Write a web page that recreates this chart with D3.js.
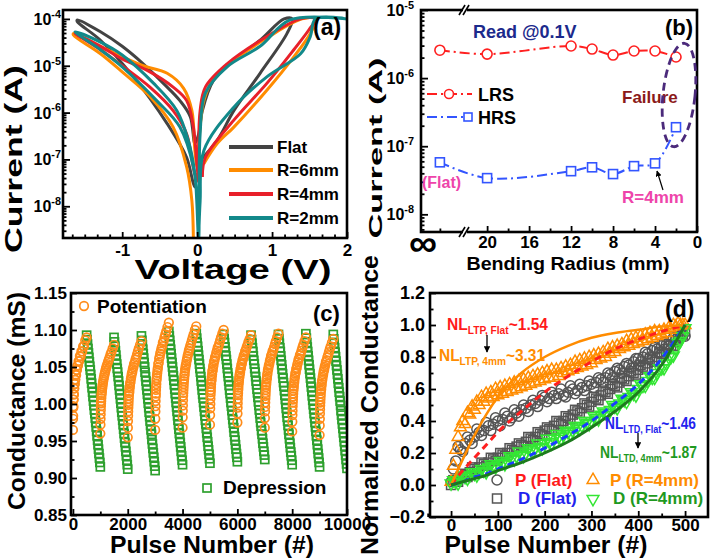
<!DOCTYPE html>
<html><head><meta charset="utf-8">
<script src="https://cdn.jsdelivr.net/npm/d3@7"></script>
<style>
body{margin:0;background:#fff;}
svg text{font-family:"Liberation Sans",Arial,Helvetica,sans-serif;font-weight:bold;}
</style></head><body>
<svg id="fig" width="710" height="560" xmlns="http://www.w3.org/2000/svg"></svg>
<script>
// ---------------- DATA ----------------
// (a) I-V sweeps (voltage V, current A)
const ivLabels = ["Flat","R=6mm","R=4mm","R=2mm"];
const vFlat = [0.04,0.27,0.49,0.84,1.2,1.27,1.16,0.84,0.49,0.22,0.07,0.02,-0.03,-0.09,-0.23,-0.45,-0.72,-1.0,-1.29,-1.6,-1.6,-1.29,-0.85,-0.4,-0.14,-0.03,0.0];
const iFlat = [9.5e-8,2.6e-7,1.1e-6,6.9e-6,4.9e-5,1e-4,1e-4,3.5e-5,1.3e-5,4.9e-6,1.1e-6,3.5e-7,2.2e-7,8.1e-7,1.8e-6,4.2e-6,1.1e-5,2.6e-5,5.3e-5,9.5e-5,8.8e-5,3.5e-5,5.8e-6,5.8e-7,1.1e-7,2.6e-8,2.6e-8];
const v6mm = [0.09,0.27,0.49,0.93,1.29,1.51,1.59,1.4,0.93,0.49,0.22,0.09,0.04,0.0,-0.03,-0.07,-0.18,-0.4,-0.72,-1.0,-1.29,-1.65,-1.65,-1.29,-1.0,-0.63,-0.32,-0.14,-0.07,-0.05];
const i6mm = [8.1e-8,2.2e-7,4.9e-7,3.0e-6,1.55e-5,4.9e-5,1e-4,1e-4,3.9e-5,1.3e-5,5.3e-6,1.8e-6,4.9e-7,6.9e-8,1.55e-7,1.1e-6,3.3e-6,6.9e-6,1.0e-5,1.55e-5,2.6e-5,4.9e-5,4.5e-5,1.8e-5,7.4e-6,2.2e-6,4.9e-7,6.9e-8,1.3e-8,2e-9];
const v4mm = [0.07,0.11,0.49,0.93,1.29,1.49,1.58,1.38,0.93,0.4,0.11,0.04,0.02,0.02,0.0,-0.05,-0.14,-0.32,-0.63,-1.0,-1.29,-1.63,-1.29,-1.0,-0.63,-0.32,-0.14,-0.03,0.04];
const i4mm = [4.2e-8,1.1e-7,6.9e-7,4.2e-6,2.2e-5,5.8e-5,1e-4,1e-4,4.2e-5,1.1e-5,3.5e-6,1.1e-6,1.55e-7,3.5e-8,6.9e-8,4.9e-7,1.8e-6,3.5e-6,7.4e-6,1.4e-5,2.6e-5,4.9e-5,2.2e-5,1.0e-5,3.5e-6,1.1e-6,3.5e-7,4.9e-8,3.0e-8];
const v2mm = [0.02,0.04,0.09,0.49,0.93,1.38,1.51,1.58,2.0,1.24,0.84,0.4,0.11,0.04,0.02,-0.03,-0.12,-0.27,-0.58,-1.0,-1.29,-1.63,-1.29,-1.0,-0.54,-0.23,-0.05,0.0,0.02];
const i2mm = [2e-9,1.3e-8,1.55e-7,1.3e-6,5.8e-6,1.8e-5,4.2e-5,1e-4,1e-4,9.5e-5,2.6e-5,9.5e-6,2.6e-6,3.5e-7,2e-9,4.9e-8,2.6e-7,1.1e-6,4.2e-6,1.7e-5,3.2e-5,5.3e-5,2.2e-5,9.5e-6,1.8e-6,4.9e-7,6.9e-8,1.3e-8,2e-9];
const ivXTicks = [-1,0,1,2];
const ivYTicks = [1e-8,1e-7,1e-6,1e-5,1e-4];

// (b) read current vs bending radius
const bendRadius = ["Flat",20,12,10,8,6,4,2];
const lrsCurrent = [2.57e-6,2.25e-6,2.96e-6,2.67e-6,2.18e-6,2.5e-6,2.5e-6,2.04e-6];
const hrsCurrent = [5.8e-8,3.4e-8,4.3e-8,4.9e-8,3.9e-8,5.1e-8,5.6e-8,1.9e-7];
const bendXTicks = [20,16,12,8,4,0];
const bendYTicks = [1e-8,1e-7,1e-6,1e-5];

// (c) conductance cycling (mS)
const cycleStarts = [0,1000,2000,3000,4000,5000,6000,7000,8000,9000];
const potOffsets = [0,4,8,12,16,20,25,30,36,42,50,58,67,77,88,100,115,130,147,165,185,207,230,255,282,310,340,372,405,450,500];
const potentiation = [
 [0.965,0.980,0.984,0.995,0.997,1.006,1.006,1.013,1.013,1.021,1.021,1.027,1.027,1.033,1.033,1.040,1.039,1.046,1.046,1.052,1.052,1.058,1.058,1.065,1.064,1.071,1.071,1.078,1.078,1.086,1.090],
 [0.960,0.972,0.980,0.986,0.992,0.997,1.001,1.004,1.008,1.012,1.015,1.018,1.021,1.024,1.027,1.030,1.033,1.036,1.039,1.042,1.045,1.048,1.051,1.054,1.057,1.060,1.063,1.067,1.070,1.075,1.080],
 [0.955,0.968,0.977,0.984,0.990,0.995,0.999,1.003,1.007,1.011,1.015,1.017,1.021,1.024,1.028,1.030,1.034,1.037,1.041,1.043,1.047,1.050,1.054,1.056,1.060,1.063,1.067,1.071,1.075,1.080,1.085],
 [0.965,0.980,0.990,0.997,1.004,1.010,1.014,1.019,1.023,1.027,1.032,1.035,1.039,1.042,1.046,1.049,1.054,1.056,1.061,1.064,1.068,1.071,1.075,1.078,1.083,1.085,1.090,1.094,1.098,1.104,1.110],
 [0.968,0.982,0.991,0.998,1.005,1.011,1.015,1.019,1.023,1.027,1.031,1.034,1.038,1.041,1.045,1.048,1.052,1.054,1.058,1.061,1.065,1.068,1.072,1.075,1.079,1.082,1.086,1.090,1.094,1.100,1.105],
 [0.972,0.985,0.994,1.000,1.007,1.012,1.016,1.019,1.023,1.027,1.031,1.033,1.037,1.040,1.044,1.046,1.050,1.053,1.057,1.059,1.063,1.065,1.069,1.072,1.076,1.078,1.082,1.086,1.090,1.095,1.100],
 [0.975,0.987,0.995,1.001,1.007,1.012,1.015,1.019,1.022,1.026,1.029,1.032,1.035,1.038,1.041,1.043,1.047,1.049,1.053,1.055,1.059,1.061,1.065,1.067,1.071,1.073,1.077,1.080,1.084,1.088,1.093],
 [0.968,0.981,0.990,0.996,1.002,1.007,1.011,1.015,1.019,1.023,1.026,1.029,1.033,1.035,1.039,1.042,1.046,1.048,1.052,1.054,1.058,1.061,1.065,1.067,1.071,1.073,1.077,1.081,1.085,1.090,1.095],
 [0.963,0.976,0.985,0.991,0.997,1.002,1.006,1.010,1.014,1.018,1.021,1.024,1.028,1.030,1.034,1.037,1.041,1.043,1.047,1.049,1.053,1.056,1.060,1.062,1.066,1.068,1.072,1.076,1.080,1.085,1.090],
 [0.958,0.971,0.980,0.987,0.993,0.998,1.002,1.006,1.010,1.014,1.018,1.020,1.024,1.027,1.031,1.033,1.037,1.040,1.044,1.046,1.050,1.053,1.057,1.059,1.063,1.066,1.070,1.074,1.078,1.083,1.088]
];
const depOffsets = [500,517,533,550,567,583,600,617,633,650,667,683,700,717,733,750,767,783,800,817,833,850,867,883,900,917,933,950,967,983,1000];
const depression = [
 [1.093,1.087,1.081,1.075,1.069,1.063,1.057,1.051,1.046,1.040,1.034,1.028,1.022,1.016,1.010,1.004,0.998,0.992,0.987,0.981,0.975,0.969,0.963,0.957,0.951,0.945,0.939,0.933,0.927,0.921,0.915],
 [1.090,1.084,1.078,1.072,1.066,1.060,1.054,1.048,1.043,1.037,1.031,1.025,1.019,1.013,1.007,1.001,0.995,0.989,0.984,0.978,0.972,0.966,0.960,0.954,0.948,0.942,0.936,0.930,0.924,0.918,0.912],
 [1.092,1.086,1.080,1.074,1.068,1.062,1.056,1.050,1.043,1.037,1.031,1.025,1.019,1.013,1.007,1.001,0.995,0.989,0.983,0.977,0.971,0.965,0.959,0.952,0.946,0.940,0.934,0.928,0.922,0.916,0.910],
 [1.098,1.092,1.086,1.080,1.074,1.068,1.062,1.056,1.050,1.044,1.038,1.032,1.026,1.020,1.014,1.008,1.002,0.996,0.990,0.984,0.978,0.972,0.966,0.960,0.954,0.948,0.942,0.936,0.930,0.924,0.918],
 [1.095,1.089,1.083,1.078,1.072,1.066,1.060,1.054,1.048,1.043,1.037,1.031,1.025,1.019,1.013,1.008,1.002,0.996,0.990,0.984,0.978,0.973,0.967,0.961,0.955,0.949,0.943,0.938,0.932,0.926,0.920],
 [1.094,1.088,1.083,1.077,1.071,1.065,1.060,1.054,1.048,1.042,1.037,1.031,1.025,1.019,1.014,1.008,1.002,0.997,0.991,0.985,0.979,0.974,0.968,0.962,0.956,0.951,0.945,0.939,0.933,0.928,0.922],
 [1.093,1.087,1.082,1.076,1.071,1.065,1.059,1.054,1.048,1.043,1.037,1.031,1.026,1.020,1.015,1.009,1.003,0.998,0.992,0.987,0.981,0.975,0.970,0.964,0.959,0.953,0.947,0.942,0.936,0.931,0.925],
 [1.094,1.088,1.082,1.076,1.071,1.065,1.059,1.053,1.047,1.041,1.035,1.029,1.024,1.018,1.012,1.006,1.000,0.994,0.988,0.982,0.977,0.971,0.965,0.959,0.953,0.947,0.941,0.935,0.930,0.924,0.918],
 [1.095,1.089,1.083,1.077,1.071,1.065,1.059,1.053,1.047,1.041,1.035,1.029,1.023,1.017,1.011,1.005,0.999,0.993,0.987,0.981,0.975,0.969,0.963,0.957,0.951,0.945,0.939,0.933,0.927,0.921,0.915],
 [1.094,1.088,1.082,1.076,1.070,1.064,1.058,1.052,1.046,1.040,1.034,1.028,1.022,1.016,1.010,1.004,0.998,0.991,0.985,0.979,0.973,0.967,0.961,0.955,0.949,0.943,0.937,0.931,0.925,0.919,0.913]
];
const condYTicks = [0.85,0.90,0.95,1.00,1.05,1.10,1.15];
const condXTicks = [0,2000,4000,6000,8000,10000];

// (d) normalized conductance
const normPulses = [0,5,10,15,20,25,30,35,40,45,50,55,60,65,70,75,80,85,90,95,100,105,110,115,120,125,130,135,140,145,150,155,160,165,170,175,180,185,190,195,200,205,210,215,220,225,230,235,240,245,250,255,260,265,270,275,280,285,290,295,300,305,310,315,320,325,330,335,340,345,350,355,360,365,370,375,380,385,390,395,400,405,410,415,420,425,430,435,440,445,450,455,460,465,470,475,480,485,490,495,500];
const pFlat = [0.02,0.10,0.15,0.24,0.22,0.21,0.26,0.30,0.28,0.26,0.30,0.35,0.33,0.31,0.34,0.39,0.37,0.34,0.38,0.42,0.40,0.37,0.41,0.45,0.43,0.40,0.42,0.47,0.45,0.43,0.47,0.50,0.48,0.46,0.50,0.53,0.51,0.49,0.53,0.56,0.55,0.52,0.54,0.58,0.56,0.54,0.57,0.60,0.56,0.55,0.58,0.62,0.60,0.57,0.59,0.63,0.61,0.59,0.62,0.65,0.63,0.61,0.64,0.67,0.66,0.64,0.67,0.70,0.69,0.67,0.71,0.73,0.72,0.70,0.74,0.76,0.75,0.73,0.77,0.79,0.79,0.77,0.80,0.83,0.82,0.80,0.84,0.86,0.85,0.83,0.87,0.89,0.88,0.87,0.90,0.92,0.91,0.90,0.92,0.94,0.93];
const dFlat = [0.00,0.03,0.03,0.02,0.05,0.07,0.06,0.05,0.08,0.11,0.10,0.09,0.11,0.14,0.13,0.12,0.14,0.17,0.16,0.15,0.17,0.20,0.19,0.18,0.20,0.23,0.22,0.21,0.24,0.26,0.25,0.24,0.27,0.30,0.29,0.28,0.30,0.33,0.32,0.31,0.34,0.36,0.35,0.34,0.37,0.40,0.39,0.38,0.40,0.43,0.42,0.41,0.44,0.47,0.46,0.45,0.48,0.51,0.50,0.49,0.52,0.55,0.54,0.53,0.56,0.59,0.58,0.57,0.60,0.63,0.62,0.61,0.64,0.67,0.66,0.65,0.68,0.71,0.70,0.69,0.72,0.75,0.74,0.73,0.76,0.79,0.78,0.77,0.80,0.83,0.82,0.82,0.85,0.88,0.87,0.87,0.90,0.93,0.93,0.94,0.96];
const p4mm = [0.02,0.12,0.22,0.30,0.36,0.40,0.38,0.45,0.44,0.49,0.47,0.52,0.50,0.55,0.52,0.57,0.54,0.58,0.55,0.60,0.56,0.61,0.57,0.62,0.58,0.63,0.59,0.64,0.60,0.65,0.61,0.66,0.62,0.67,0.63,0.68,0.64,0.69,0.65,0.70,0.66,0.71,0.67,0.72,0.67,0.72,0.68,0.73,0.70,0.74,0.71,0.75,0.72,0.77,0.73,0.78,0.74,0.79,0.75,0.80,0.76,0.81,0.78,0.82,0.79,0.83,0.80,0.85,0.82,0.86,0.83,0.87,0.85,0.88,0.86,0.90,0.87,0.91,0.88,0.92,0.89,0.93,0.90,0.94,0.91,0.95,0.92,0.96,0.93,0.96,0.94,0.97,0.95,0.98,0.97,1.00,0.99,1.01,1.00,1.00,1.00];
const d4mm = [0.01,0.03,0.02,0.01,0.04,0.06,0.05,0.04,0.06,0.08,0.07,0.06,0.08,0.10,0.09,0.08,0.11,0.13,0.12,0.11,0.13,0.15,0.14,0.13,0.15,0.18,0.17,0.16,0.18,0.21,0.19,0.18,0.20,0.23,0.22,0.21,0.23,0.26,0.24,0.23,0.26,0.29,0.27,0.26,0.29,0.32,0.30,0.29,0.31,0.34,0.33,0.32,0.34,0.37,0.36,0.35,0.37,0.40,0.39,0.38,0.40,0.43,0.42,0.41,0.44,0.46,0.45,0.44,0.47,0.50,0.49,0.48,0.51,0.54,0.53,0.52,0.55,0.58,0.57,0.56,0.60,0.63,0.62,0.62,0.65,0.68,0.67,0.67,0.70,0.73,0.73,0.73,0.76,0.80,0.80,0.81,0.85,0.89,0.90,0.93,0.98];
const fitPulses = [0,25,50,75,100,150,200,250,300,350,400,450,500];
const fitLtpFlat = [0,0.09,0.17,0.25,0.33,0.46,0.58,0.68,0.77,0.85,0.91,0.96,1.0];
const fitLtp4mm = [0,0.16,0.31,0.44,0.55,0.70,0.80,0.87,0.92,0.95,0.97,0.99,1.0];
const fitLtdFlat = [0,0.02,0.05,0.07,0.10,0.16,0.23,0.31,0.40,0.51,0.63,0.79,1.0];
const fitLtd4mm = [0,0.02,0.04,0.06,0.09,0.14,0.20,0.27,0.36,0.46,0.58,0.75,1.0];
const normYTicks = [-0.2,0,0.2,0.4,0.6,0.8,1.0,1.2];
const normXTicks = [0,100,200,300,400,500];

// ---------------- DRAWING ----------------
const svg = d3.select("#fig");
const FONT = '"Liberation Sans", Arial, Helvetica, sans-serif';
const defs = svg.append("defs");
defs.append("marker").attr("id","arr").attr("viewBox","0 0 10 10").attr("refX",9).attr("refY",5)
  .attr("markerWidth",5).attr("markerHeight",5).attr("orient","auto")
  .append("path").attr("d","M0,0 L10,5 L0,10 z").attr("fill","#000");

function clip(id, P){
  defs.append("clipPath").attr("id",id).append("rect")
    .attr("x",P.l).attr("y",P.t).attr("width",P.r-P.l).attr("height",P.b-P.t);
}
function frame(P){
  svg.append("rect").attr("x",P.l).attr("y",P.t).attr("width",P.r-P.l).attr("height",P.b-P.t)
    .attr("fill","none").attr("stroke","#000").attr("stroke-width",2.6);
}
function axis(gen, tx, ty, fs){
  const a = svg.append("g").attr("transform",`translate(${tx},${ty})`).call(gen);
  a.select(".domain").remove();
  a.selectAll("line").attr("stroke","#000").attr("stroke-width",1.8);
  a.attr("font-size",fs).attr("font-family",FONT).attr("font-weight","bold");
  a.selectAll("text").attr("fill","#000");
  return a;
}
function logMinors(lo, hi){
  const out=[];
  for(let e=-10;e<=-3;e++) for(let m=2;m<=9;m++){const v=m*Math.pow(10,e); if(v>lo&&v<hi) out.push(v);}
  return out;
}
function expLabel(x, y, v, fs){
  const e = Math.round(Math.log10(v));
  const t = svg.append("text").attr("x",x).attr("y",y).attr("text-anchor","end").attr("font-size",fs);
  t.append("tspan").text("10");
  t.append("tspan").attr("dy",-fs*0.45).attr("font-size",fs*0.68).text(String(e));
}
function label(x,y,txt,fs,opts={}){
  const t = svg.append("text").attr("x",x).attr("y",y).attr("font-size",fs).text(txt)
    .attr("fill",opts.fill||"#000").attr("text-anchor",opts.anchor||"start");
  if(opts.len) t.attr("textLength",opts.len).attr("lengthAdjust","spacingAndGlyphs");
  if(opts.rot!==undefined) t.attr("transform",`rotate(${opts.rot},${x},${y})`);
  return t;
}
const plain = d => String(d);

// ===== Panel (a) =====
const A = {l:63,t:10,r:347,b:238};
clip("clipA",A);
const xA = d3.scaleLinear().domain([-1.79,2]).range([A.l,A.r]);
const yA = d3.scaleLog().domain([2.1e-9,1.55e-4]).range([A.b,A.t]);
const ivColors = ["#434343","#ff8c00","#e8202a","#12898a"];
const ivData = [[vFlat,iFlat],[v6mm,i6mm],[v4mm,i4mm],[v2mm,i2mm]];
const gA = svg.append("g").attr("clip-path","url(#clipA)");
const ivLine = d3.line().x(d=>xA(d[0])).y(d=>yA(d[1])).curve(d3.curveCatmullRom.alpha(0.5));
ivData.forEach((s,k)=>{
  const pts = s[0].map((v,i)=>[v,s[1][i]]);
  gA.append("path").attr("d",ivLine(pts)).attr("fill","none").attr("stroke",ivColors[k])
    .attr("stroke-width",3).attr("stroke-linejoin","round");
});
axis(d3.axisBottom(xA).tickValues(ivXTicks).tickSize(-6).tickPadding(6).tickFormat(plain),0,A.b,17);
axis(d3.axisBottom(xA).tickValues(d3.range(-10,12).map(k=>k/6).filter(v=>v>-1.79&&v<2&&Math.abs(v-Math.round(v))>0.01)).tickSize(-3.5).tickFormat(""),0,A.b,10);
axis(d3.axisLeft(yA).tickValues(ivYTicks).tickSize(-7).tickFormat(""),A.l,0,10);
axis(d3.axisLeft(yA).tickValues(logMinors(2.1e-9,1.55e-4)).tickSize(-3.5).tickFormat(""),A.l,0,10);
ivYTicks.forEach(v=>expLabel(A.l-2, yA(v)+6, v, 16));
frame(A);
[147,170,194,218].forEach((y,k)=>{
  svg.append("line").attr("x1",229).attr("x2",273).attr("y1",y).attr("y2",y).attr("stroke",ivColors[k]).attr("stroke-width",4);
  label(277,y+6,ivLabels[k],17);
});
label(313,35,"(a)",23);
label(22,159,"Current (A)",23,{anchor:"middle",rot:-90,len:188});
label(233,279,"Voltage (V)",27,{anchor:"middle",len:197});

// ===== Panel (b) =====
const B = {l:421,t:10,r:697,b:232};
clip("clipB",B);
const flatPos = 24.5;
const xB = d3.scaleLinear().domain([26.3,0]).range([B.l,B.r]);
const yB = d3.scaleLog().domain([5.5e-9,1e-5]).range([B.b,B.t]);
const bx = r => xB(r==="Flat"?flatPos:r);
const gB = svg.append("g").attr("clip-path","url(#clipB)");
const bLine = d3.line().x(d=>bx(d[0])).y(d=>yB(d[1])).curve(d3.curveCatmullRom.alpha(0.5));
const lrsPts = bendRadius.map((r,i)=>[r,lrsCurrent[i]]);
const hrsPts = bendRadius.map((r,i)=>[r,hrsCurrent[i]]);
gB.append("path").attr("d",bLine(lrsPts)).attr("fill","none").attr("stroke","#ff2020").attr("stroke-width",2).attr("stroke-dasharray","10,4,2,4");
gB.append("path").attr("d",bLine(hrsPts)).attr("fill","none").attr("stroke","#3355ff").attr("stroke-width",2).attr("stroke-dasharray","10,4,2,4");
gB.selectAll("circle.l").data(lrsPts).join("circle").attr("cx",d=>bx(d[0])).attr("cy",d=>yB(d[1])).attr("r",5)
  .attr("fill","#fff").attr("stroke","#ff2020").attr("stroke-width",1.6);
gB.selectAll("rect.h").data(hrsPts).join("rect").attr("x",d=>bx(d[0])-4.5).attr("y",d=>yB(d[1])-4.5).attr("width",9).attr("height",9)
  .attr("fill","#fff").attr("stroke","#3355ff").attr("stroke-width",1.6);
axis(d3.axisBottom(xB).tickValues(bendXTicks).tickSize(-6).tickPadding(4).tickFormat(plain),0,B.b,17);
axis(d3.axisBottom(xB).tickValues([18,14,10,6,2,flatPos]).tickSize(-3.5).tickFormat(""),0,B.b,10);
axis(d3.axisLeft(yB).tickValues(bendYTicks).tickSize(-7).tickFormat(""),B.l,0,10);
axis(d3.axisLeft(yB).tickValues(logMinors(5.5e-9,1e-5)).tickSize(-3.5).tickFormat(""),B.l,0,10);
bendYTicks.forEach(v=>expLabel(B.l-7, yB(v)+6, v, 16));
frame(B);
[B.t,B.b].forEach(y=>{
  const xb = xB(22.2);
  svg.append("line").attr("x1",xb-1).attr("x2",xb+3).attr("y1",y).attr("y2",y).attr("stroke","#fff").attr("stroke-width",4);
  [-2,2].forEach(dx=>svg.append("line").attr("x1",xb+dx-3).attr("y1",y+5).attr("x2",xb+dx+3).attr("y2",y-5).attr("stroke","#000").attr("stroke-width",1.6));
});
label(423,256,"\u221e",38,{anchor:"middle",len:28});
svg.append("line").attr("x1",427).attr("x2",472).attr("y1",94).attr("y2",94).attr("stroke","#ff2020").attr("stroke-width",2).attr("stroke-dasharray","10,4,2,4");
svg.append("circle").attr("cx",449).attr("cy",94).attr("r",4.5).attr("fill","#fff").attr("stroke","#ff2020").attr("stroke-width",1.6);
svg.append("line").attr("x1",427).attr("x2",472).attr("y1",117).attr("y2",117).attr("stroke","#3355ff").attr("stroke-width",2).attr("stroke-dasharray","10,4,2,4");
svg.append("rect").attr("x",464).attr("y",113).attr("width",8).attr("height",8).attr("fill","#fff").attr("stroke","#3355ff").attr("stroke-width",1.6);
label(478,101,"LRS",18);
label(478,124,"HRS",18);
label(473,38,"Read @0.1V",18,{fill:"#1c2a8c"});
label(665,35,"(b)",22);
label(622,103,"Failure",17,{fill:"#8b1a1a"});
label(422,188,"(Flat)",16,{fill:"#ee44aa"});
label(622,203,"R=4mm",17,{fill:"#ee44aa"});
svg.append("ellipse").attr("cx",679).attr("cy",95).attr("rx",16).attr("ry",52)
  .attr("transform","rotate(6,679,95)").attr("fill","none").attr("stroke","#4b2a7b").attr("stroke-width",2.8).attr("stroke-dasharray","8,5");
svg.append("line").attr("x1",663).attr("y1",190).attr("x2",657).attr("y2",171).attr("stroke","#000").attr("stroke-width",1.2).attr("marker-end","url(#arr)");
label(382,148,"Current (A)",18,{anchor:"middle",rot:-90,len:181});
label(568,270,"Bending Radius (mm)",19,{anchor:"middle",len:203});

// ===== Panel (c) =====
const C = {l:71,t:293,r:347,b:515};
clip("clipC",C);
const xC = d3.scaleLinear().domain([-70,10000]).range([C.l,C.r]);
const yC = d3.scaleLinear().domain([0.85,1.15]).range([C.b,C.t]);
const gC = svg.append("g").attr("clip-path","url(#clipC)");
const depPts=[], potPts=[];
cycleStarts.forEach((s,c)=>{
  depOffsets.forEach((o,i)=>depPts.push([s+o,depression[c][i]]));
  potOffsets.forEach((o,i)=>potPts.push([s+o,potentiation[c][i]]));
});
gC.selectAll("rect.d").data(depPts).join("rect").attr("x",d=>xC(d[0])-4).attr("y",d=>yC(d[1])-4)
  .attr("width",8).attr("height",8).attr("fill","none").attr("stroke","#2ea02e").attr("stroke-width",1.7);
gC.selectAll("circle.p").data(potPts).join("circle").attr("cx",d=>xC(d[0])).attr("cy",d=>yC(d[1])).attr("r",4.3)
  .attr("fill","none").attr("stroke","#ff8c1a").attr("stroke-width",1.7);
axis(d3.axisBottom(xC).tickValues(condXTicks).tickSize(-6).tickPadding(3).tickFormat(plain),0,C.b,17);
axis(d3.axisBottom(xC).tickValues([1000,3000,5000,7000,9000]).tickSize(-3.5).tickFormat(""),0,C.b,10);
axis(d3.axisLeft(yC).tickValues(condYTicks).tickSize(-6).tickPadding(4).tickFormat(d3.format(".2f")),C.l,0,17);
axis(d3.axisLeft(yC).tickValues([0.875,0.925,0.975,1.025,1.075,1.125]).tickSize(-3.5).tickFormat(""),C.l,0,10);
frame(C);
svg.append("circle").attr("cx",84).attr("cy",306).attr("r",4.3).attr("fill","none").attr("stroke","#ff8c1a").attr("stroke-width",1.7);
label(97,313,"Potentiation",19);
svg.append("rect").attr("x",203).attr("y",484).attr("width",8).attr("height",8).attr("fill","none").attr("stroke","#2ea02e").attr("stroke-width",1.7);
label(223,494,"Depression",19);
label(313,321,"(c)",22);
label(25,401,"Conductance (mS)",24,{anchor:"middle",rot:-90,len:218});
label(212,553,"Pulse Number (#)",24,{anchor:"middle",len:204});

// ===== Panel (d) =====
const D = {l:430,t:293,r:708,b:517};
clip("clipD",D);
const xD = d3.scaleLinear().domain([-45,549]).range([D.l,D.r]);
const yD = d3.scaleLinear().domain([-0.2,1.2]).range([D.b,D.t]);
const gD = svg.append("g").attr("clip-path","url(#clipD)");
const triUp = d3.symbol(d3.symbolTriangle,60)();
gD.selectAll("circle.pf").data(normPulses).join("circle").attr("cx",d=>xD(d)).attr("cy",(d,i)=>yD(pFlat[i])).attr("r",5)
  .attr("fill","none").attr("stroke","#555").attr("stroke-width",1.5);
gD.selectAll("rect.df").data(normPulses).join("rect").attr("x",d=>xD(d)-4.5).attr("y",(d,i)=>yD(dFlat[i])-4.5).attr("width",9).attr("height",9)
  .attr("fill","none").attr("stroke","#555").attr("stroke-width",1.5);
gD.selectAll("path.p4").data(normPulses).join("path").attr("d",triUp)
  .attr("transform",(d,i)=>`translate(${xD(d)},${yD(p4mm[i])})`).attr("fill","none").attr("stroke","#ff8c00").attr("stroke-width",1.5);
gD.selectAll("path.d4").data(normPulses).join("path").attr("d",triUp)
  .attr("transform",(d,i)=>`translate(${xD(d)},${yD(d4mm[i])}) rotate(180)`).attr("fill","none").attr("stroke","#33e633").attr("stroke-width",1.5);
const fitLine = d3.line().x(d=>xD(d[0])).y(d=>yD(d[1])).curve(d3.curveMonotoneX);
const fits = [
  [fitLtpFlat,"#ff2020","7,5",3],
  [fitLtp4mm,"#ff8c00",null,2.5],
  [fitLtdFlat,"#1a3cff","7,5",3],
  [fitLtd4mm,"#1e7a1e",null,3]
];
fits.forEach(f=>{
  const p = gD.append("path").attr("d",fitLine(fitPulses.map((x,i)=>[x,f[0][i]]))).attr("fill","none")
    .attr("stroke",f[1]).attr("stroke-width",f[3]);
  if(f[2]) p.attr("stroke-dasharray",f[2]);
});
axis(d3.axisBottom(xD).tickValues(normXTicks).tickSize(-6).tickPadding(2).tickFormat(plain),0,D.b,17);
axis(d3.axisBottom(xD).tickValues([-50,50,150,250,350,450]).tickSize(-3.5).tickFormat(""),0,D.b,10);
axis(d3.axisLeft(yD).tickValues(normYTicks).tickSize(-6).tickPadding(5).tickFormat(d3.format(".1f")),D.l,0,18);
axis(d3.axisLeft(yD).tickValues([-0.1,0.1,0.3,0.5,0.7,0.9,1.1]).tickSize(-3.5).tickFormat(""),D.l,0,10);
frame(D);
function nl(x,y,sub,val,color,len){
  const fs=16;
  const t = svg.append("text").attr("x",x).attr("y",y).attr("fill",color).attr("font-size",fs)
    .attr("textLength",len).attr("lengthAdjust","spacingAndGlyphs");
  t.append("tspan").text("NL");
  t.append("tspan").attr("dy",4).attr("font-size",10.5).text(sub);
  t.append("tspan").attr("dy",-4).text(val);
}
nl(447,330,"LTP, Flat","~1.54","#ff1a1a",101);
nl(439,361,"LTP, 4mm","~3.31","#ff8c00",106);
nl(605,429,"LTD, Flat","~1.46","#2222ee",91);
nl(600,458,"LTD, 4mm","~1.87","#1f9a1f",97);
svg.append("line").attr("x1",487).attr("y1",335).attr("x2",487).attr("y2",352).attr("stroke","#000").attr("stroke-width",1.3).attr("marker-end","url(#arr)");
svg.append("line").attr("x1",638).attr("y1",433).attr("x2",638).attr("y2",448).attr("stroke","#000").attr("stroke-width",1.3).attr("marker-end","url(#arr)");
svg.append("circle").attr("cx",497).attr("cy",480).attr("r",5).attr("fill","none").attr("stroke","#555").attr("stroke-width",1.5);
svg.append("rect").attr("x",492.5).attr("y",494).attr("width",9).attr("height",9).attr("fill","none").attr("stroke","#555").attr("stroke-width",1.5);
svg.append("path").attr("d",triUp).attr("transform","translate(593,480)").attr("fill","none").attr("stroke","#ff8c00").attr("stroke-width",1.5);
svg.append("path").attr("d",triUp).attr("transform","translate(593,499) rotate(180)").attr("fill","none").attr("stroke","#33e633").attr("stroke-width",1.5);
label(515,486,"P (Flat)",17,{fill:"#ff1a1a"});
label(610,486,"P (R=4mm)",17,{fill:"#ff8c00"});
label(518,504,"D (Flat)",17,{fill:"#2222ee"});
label(613,504,"D (R=4mm)",17,{fill:"#1f9a1f"});
label(665,317,"(d)",23);
label(378,405,"Normalized Conductance",24,{anchor:"middle",rot:-90,len:300});
label(546,553,"Pulse Number (#)",24,{anchor:"middle",len:203});
</script></body></html>
